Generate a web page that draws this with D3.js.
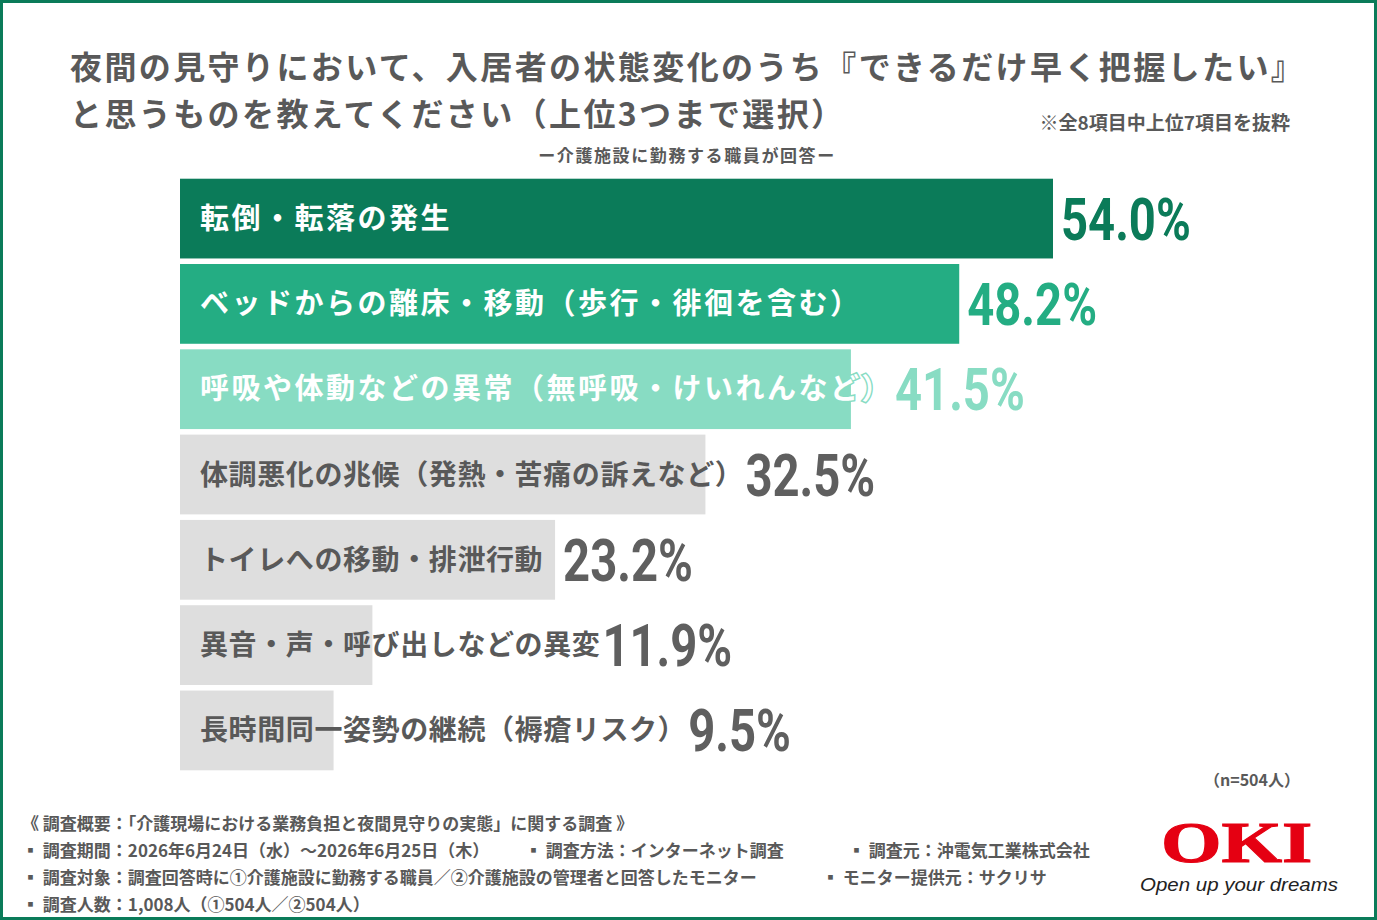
<!DOCTYPE html>
<html>
<head>
<meta charset="utf-8">
<script src="https://cdn.jsdelivr.net/npm/d3@7"></script>
<style>
  body { margin: 0; background: #fff; }
  svg { display: block; font-family: "Noto Sans CJK JP", "Noto Sans", sans-serif; }
</style>
</head>
<body>
<div id="chart"></div>
<script>
// chart data
const categories = [
  "転倒・転落の発生",
  "ベッドからの離床・移動（歩行・徘徊を含む）",
  "呼吸や体動などの異常（無呼吸・けいれんなど）",
  "体調悪化の兆候（発熱・苦痛の訴えなど）",
  "トイレへの移動・排泄行動",
  "異音・声・呼び出しなどの異変",
  "長時間同一姿勢の継続（褥瘡リスク）"
]
const values = [54.0, 48.2, 41.5, 32.5, 23.2, 11.9, 9.5]

const titleLines = [
  "夜間の見守りにおいて、入居者の状態変化のうち『できるだけ早く把握したい』",
  "と思うものを教えてください（上位3つまで選択）"
]
const subtitle = "ー介護施設に勤務する職員が回答ー"
const note = "※全8項目中上位7項目を抜粋"
const sampleNote = "（n=504人）"
const footerLines = [
  [["《 調査概要：「介護現場における業務負担と夜間見守りの実態」に関する調査 》", 22]],
  [["▪ 調査期間：2026年6月24日（水）～2026年6月25日（木）", 22], ["▪ 調査方法：インターネット調査", 525], ["▪ 調査元：沖電気工業株式会社", 848]],
  [["▪ 調査対象：調査回答時に①介護施設に勤務する職員／②介護施設の管理者と回答したモニター", 22], ["▪ モニター提供元：サクリサ", 822]],
  [["▪ 調査人数：1,008人（①504人／②504人）", 22]]
]

const svgWidth = 1377
const svgHeight = 920

// top three bars are green, rest grey
const barColors = ["#0b7b59", "#24ad83", "#88dcc3", "#dedede", "#dedede", "#dedede", "#dedede"]
const valueColors = ["#0b7b59", "#24ad83", "#88dcc3", "#5f5f5f", "#5f5f5f", "#5f5f5f", "#5f5f5f"]
const textGrey = "#595959"

let svg = d3.select("#chart")
  .append("svg")
  .attr("width", svgWidth)
  .attr("height", svgHeight)

// frame
svg.append("rect")
  .attr("x", 1.5).attr("y", 1.5)
  .attr("width", svgWidth - 3).attr("height", svgHeight - 3)
  .attr("fill", "#fff")
  .attr("stroke", "#0b7b59")
  .attr("stroke-width", 3)

// title
svg.selectAll(".title")
  .data(titleLines)
  .enter()
  .append("text")
  .attr("class", "title")
  .attr("x", 70)
  .attr("y", (d, i) => 79 + i * 47)
  .attr("font-size", 32)
  .attr("font-weight", 700)
  .attr("letter-spacing", 2.4)
  .attr("fill", textGrey)
  .text(d => d)

svg.append("text")
  .attr("x", 1290).attr("y", 130)
  .attr("text-anchor", "end")
  .attr("font-size", 19)
  .attr("font-weight", 700)
  .attr("fill", textGrey)
  .text(note)

svg.append("text")
  .attr("x", 687).attr("y", 162)
  .attr("text-anchor", "middle")
  .attr("font-size", 17)
  .attr("font-weight", 700)
  .attr("letter-spacing", 1.6)
  .attr("fill", textGrey)
  .text(subtitle)

// scales
const x = d3.scaleLinear().domain([0, 54]).range([180, 1053])
const y = d3.scaleBand()
  .domain(categories)
  .range([177, 772])
  .paddingInner(0.065)
  .paddingOuter(0.02)

let barGroup = svg.append("g")

barGroup.selectAll("rect")
  .data(categories)
  .enter()
  .append("rect")
  .attr("x", x(0))
  .attr("y", c => y(c))
  .attr("width", (c, i) => x(values[i]) - x(0))
  .attr("height", y.bandwidth())
  .attr("fill", (c, i) => barColors[i])

// labels in bars: white with a stroke in the bar colour for green ones
let labels = barGroup.selectAll(".lbl")
  .data(categories)
  .enter()
  .append("text")
  .attr("class", "lbl")
  .attr("x", 200)
  .attr("y", c => y(c) + y.bandwidth() / 2 + 10)
  .attr("font-size", (c, i) => i < 3 ? 29 : 28)
  .attr("font-weight", 700)
  .attr("letter-spacing", (c, i) => i < 3 ? 2.5 : 0.6)
  .attr("fill", (c, i) => i < 3 ? "#fff" : textGrey)
  .attr("stroke", (c, i) => i < 3 ? barColors[i] : "none")
  .attr("stroke-width", 3)
  .attr("paint-order", "stroke")
  .text(c => c)

// value labels go after whichever ends later, bar or text
labels.each(function (c, i) {
  let labelEnd = 200 + this.getComputedTextLength()
  let start = Math.max(x(values[i]) + 8, labelEnd + 2)
  barGroup.append("text")
    .attr("transform", `translate(${start}, ${y(c) + y.bandwidth() / 2 + 21}) scale(0.8, 1)`)
    .style("font-family", "Roboto, 'DejaVu Sans Condensed', sans-serif")
    .attr("font-size", 59)
    .attr("font-weight", 700)
    .attr("fill", valueColors[i])
    .text(values[i].toFixed(1) + "%")
})

svg.append("text")
  .attr("x", 1300).attr("y", 786)
  .attr("text-anchor", "end")
  .attr("font-size", 16)
  .attr("font-weight", 700)
  .attr("fill", textGrey)
  .text(sampleNote)

// footer
footerLines.forEach((line, i) => {
  line.forEach(part => {
    svg.append("text")
      .attr("x", part[1])
      .attr("y", 830 + i * 27)
      .attr("font-size", 17)
      .attr("font-weight", 700)
      .attr("fill", textGrey)
      .text(part[0])
  })
})

// OKI logo
svg.append("text")
  .attr("transform", "translate(1161, 862) scale(1.39, 1)")
  .style("font-family", "'Liberation Serif', 'DejaVu Serif', serif")
  .attr("font-size", 56)
  .attr("font-weight", 700)
  .attr("fill", "#e50012")
  .attr("stroke", "#e50012")
  .attr("stroke-width", 1)
  .text("OKI")

svg.append("text")
  .attr("x", 1140).attr("y", 891)
  .style("font-family", "'Liberation Sans', Arial, sans-serif")
  .attr("font-size", 19)
  .attr("font-style", "italic")
  .attr("fill", "#222")
  .attr("textLength", 198)
  .attr("lengthAdjust", "spacingAndGlyphs")
  .text("Open up your dreams")
</script>
</body>
</html>
